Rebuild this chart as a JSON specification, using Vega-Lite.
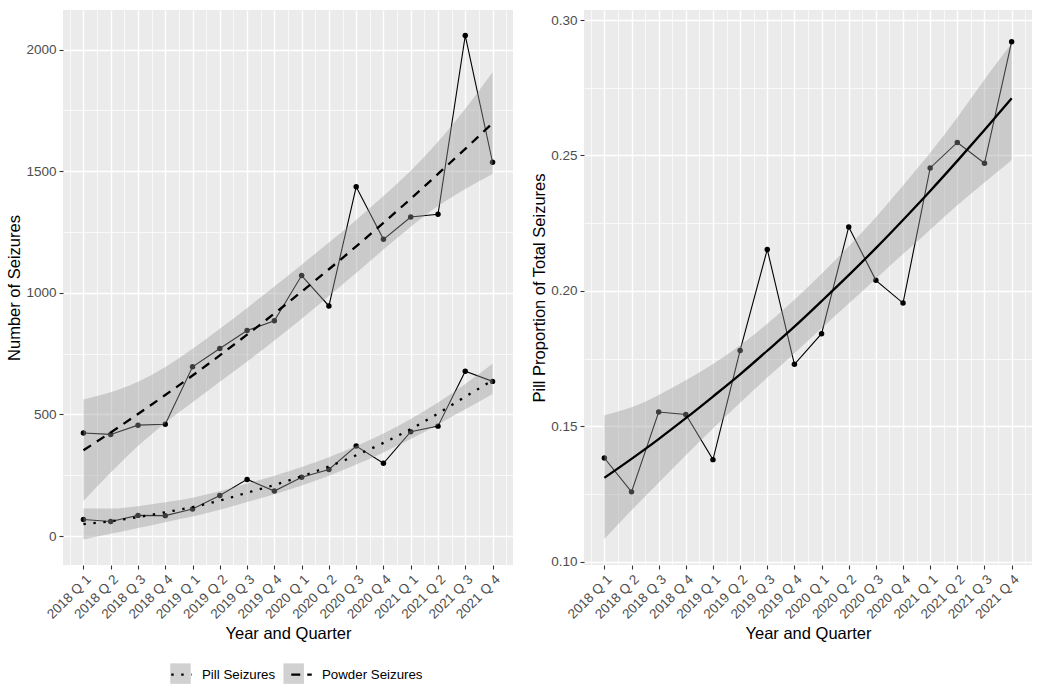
{
  "$schema": "https://vega.github.io/schema/vega-lite/v6.json",
  "padding": {"left": 6, "top": 10, "right": 5, "bottom": 5},
  "spacing": 15,
  "config": {
    "font": "Liberation Sans",
    "view": {"fill": "#EBEBEB", "stroke": null},
    "axis": {
      "gridColor": "#FFFFFF",
      "domain": false,
      "tickColor": "#333333",
      "tickSize": 4,
      "tickWidth": 1.1,
      "labelColor": "#4D4D4D",
      "labelFontSize": 13.5,
      "labelPadding": 3,
      "titleColor": "#000000",
      "titleFontSize": 16.5,
      "titleFontWeight": "normal"
    },
    "axisY": {"titlePadding": 3},
    "axisX": {"titlePadding": 5},
    "legend": {"labelFontSize": 13.3, "labelColor": "#000000"}
  },
  "datasets": {
    "raw": [
      {"i": 1, "series": "Powder Seizures", "seizures": 424},
      {"i": 2, "series": "Powder Seizures", "seizures": 418},
      {"i": 3, "series": "Powder Seizures", "seizures": 456},
      {"i": 4, "series": "Powder Seizures", "seizures": 460},
      {"i": 5, "series": "Powder Seizures", "seizures": 696},
      {"i": 6, "series": "Powder Seizures", "seizures": 771},
      {"i": 7, "series": "Powder Seizures", "seizures": 845},
      {"i": 8, "series": "Powder Seizures", "seizures": 885},
      {"i": 9, "series": "Powder Seizures", "seizures": 1071},
      {"i": 10, "series": "Powder Seizures", "seizures": 946},
      {"i": 11, "series": "Powder Seizures", "seizures": 1436},
      {"i": 12, "series": "Powder Seizures", "seizures": 1220},
      {"i": 13, "series": "Powder Seizures", "seizures": 1312},
      {"i": 14, "series": "Powder Seizures", "seizures": 1323},
      {"i": 15, "series": "Powder Seizures", "seizures": 2058},
      {"i": 16, "series": "Powder Seizures", "seizures": 1537},
      {"i": 1, "series": "Pill Seizures", "seizures": 68},
      {"i": 2, "series": "Pill Seizures", "seizures": 60},
      {"i": 3, "series": "Pill Seizures", "seizures": 85},
      {"i": 4, "series": "Pill Seizures", "seizures": 84},
      {"i": 5, "series": "Pill Seizures", "seizures": 111},
      {"i": 6, "series": "Pill Seizures", "seizures": 167},
      {"i": 7, "series": "Pill Seizures", "seizures": 233},
      {"i": 8, "series": "Pill Seizures", "seizures": 185},
      {"i": 9, "series": "Pill Seizures", "seizures": 242},
      {"i": 10, "series": "Pill Seizures", "seizures": 274},
      {"i": 11, "series": "Pill Seizures", "seizures": 370},
      {"i": 12, "series": "Pill Seizures", "seizures": 299},
      {"i": 13, "series": "Pill Seizures", "seizures": 429},
      {"i": 14, "series": "Pill Seizures", "seizures": 452},
      {"i": 15, "series": "Pill Seizures", "seizures": 678},
      {"i": 16, "series": "Pill Seizures", "seizures": 636}
    ],
    "fit": [
      {"i": 1, "series": "Powder Seizures", "band": "Powder Seizures", "fit": 353, "lo": 144, "hi": 562},
      {"i": 2, "series": "Powder Seizures", "band": "Powder Seizures", "fit": 426, "lo": 261, "hi": 591},
      {"i": 3, "series": "Powder Seizures", "band": "Powder Seizures", "fit": 502, "lo": 370, "hi": 634},
      {"i": 4, "series": "Powder Seizures", "band": "Powder Seizures", "fit": 580, "lo": 465, "hi": 695},
      {"i": 5, "series": "Powder Seizures", "band": "Powder Seizures", "fit": 660, "lo": 550, "hi": 770},
      {"i": 6, "series": "Powder Seizures", "band": "Powder Seizures", "fit": 743, "lo": 634, "hi": 852},
      {"i": 7, "series": "Powder Seizures", "band": "Powder Seizures", "fit": 828, "lo": 718, "hi": 938},
      {"i": 8, "series": "Powder Seizures", "band": "Powder Seizures", "fit": 915, "lo": 804, "hi": 1026},
      {"i": 9, "series": "Powder Seizures", "band": "Powder Seizures", "fit": 1005, "lo": 894, "hi": 1116},
      {"i": 10, "series": "Powder Seizures", "band": "Powder Seizures", "fit": 1097, "lo": 987, "hi": 1207},
      {"i": 11, "series": "Powder Seizures", "band": "Powder Seizures", "fit": 1191, "lo": 1082, "hi": 1300},
      {"i": 12, "series": "Powder Seizures", "band": "Powder Seizures", "fit": 1288, "lo": 1178, "hi": 1398},
      {"i": 13, "series": "Powder Seizures", "band": "Powder Seizures", "fit": 1387, "lo": 1272, "hi": 1502},
      {"i": 14, "series": "Powder Seizures", "band": "Powder Seizures", "fit": 1489, "lo": 1357, "hi": 1621},
      {"i": 15, "series": "Powder Seizures", "band": "Powder Seizures", "fit": 1592, "lo": 1427, "hi": 1757},
      {"i": 16, "series": "Powder Seizures", "band": "Powder Seizures", "fit": 1698, "lo": 1489, "hi": 1907},
      {"i": 1, "series": "Pill Seizures", "band": "Pill Seizures", "fit": 49, "lo": -14, "hi": 113},
      {"i": 2, "series": "Pill Seizures", "band": "Pill Seizures", "fit": 61, "lo": 9, "hi": 113},
      {"i": 3, "series": "Pill Seizures", "band": "Pill Seizures", "fit": 78, "lo": 33, "hi": 123},
      {"i": 4, "series": "Pill Seizures", "band": "Pill Seizures", "fit": 98, "lo": 57, "hi": 139},
      {"i": 5, "series": "Pill Seizures", "band": "Pill Seizures", "fit": 119, "lo": 80, "hi": 158},
      {"i": 6, "series": "Pill Seizures", "band": "Pill Seizures", "fit": 146, "lo": 108, "hi": 184},
      {"i": 7, "series": "Pill Seizures", "band": "Pill Seizures", "fit": 178, "lo": 140, "hi": 216},
      {"i": 8, "series": "Pill Seizures", "band": "Pill Seizures", "fit": 210, "lo": 172, "hi": 248},
      {"i": 9, "series": "Pill Seizures", "band": "Pill Seizures", "fit": 246, "lo": 208, "hi": 284},
      {"i": 10, "series": "Pill Seizures", "band": "Pill Seizures", "fit": 286, "lo": 248, "hi": 324},
      {"i": 11, "series": "Pill Seizures", "band": "Pill Seizures", "fit": 332, "lo": 294, "hi": 370},
      {"i": 12, "series": "Pill Seizures", "band": "Pill Seizures", "fit": 383, "lo": 344, "hi": 422},
      {"i": 13, "series": "Pill Seizures", "band": "Pill Seizures", "fit": 440, "lo": 399, "hi": 481},
      {"i": 14, "series": "Pill Seizures", "band": "Pill Seizures", "fit": 504, "lo": 459, "hi": 549},
      {"i": 15, "series": "Pill Seizures", "band": "Pill Seizures", "fit": 573, "lo": 521, "hi": 625},
      {"i": 16, "series": "Pill Seizures", "band": "Pill Seizures", "fit": 640, "lo": 584, "hi": 708}
    ],
    "prop": [
      {"i": 1, "prop": 0.1383, "fit": 0.1310, "lo": 0.1084, "hi": 0.1541},
      {"i": 2, "prop": 0.1258, "fit": 0.1380, "lo": 0.1190, "hi": 0.1570},
      {"i": 3, "prop": 0.1553, "fit": 0.1453, "lo": 0.1292, "hi": 0.1616},
      {"i": 4, "prop": 0.1544, "fit": 0.1530, "lo": 0.1393, "hi": 0.1670},
      {"i": 5, "prop": 0.1377, "fit": 0.1610, "lo": 0.1492, "hi": 0.1730},
      {"i": 6, "prop": 0.1780, "fit": 0.1692, "lo": 0.1587, "hi": 0.1799},
      {"i": 7, "prop": 0.2153, "fit": 0.1779, "lo": 0.1680, "hi": 0.1879},
      {"i": 8, "prop": 0.1729, "fit": 0.1868, "lo": 0.1770, "hi": 0.1967},
      {"i": 9, "prop": 0.1842, "fit": 0.1962, "lo": 0.1862, "hi": 0.2063},
      {"i": 10, "prop": 0.2236, "fit": 0.2058, "lo": 0.1953, "hi": 0.2165},
      {"i": 11, "prop": 0.2039, "fit": 0.2158, "lo": 0.2045, "hi": 0.2272},
      {"i": 12, "prop": 0.1955, "fit": 0.2262, "lo": 0.2136, "hi": 0.2389},
      {"i": 13, "prop": 0.2454, "fit": 0.2369, "lo": 0.2226, "hi": 0.2510},
      {"i": 14, "prop": 0.2548, "fit": 0.2480, "lo": 0.2316, "hi": 0.2640},
      {"i": 15, "prop": 0.2471, "fit": 0.2594, "lo": 0.2400, "hi": 0.2780},
      {"i": 16, "prop": 0.2920, "fit": 0.2711, "lo": 0.2482, "hi": 0.2914}
    ]
  },
  "resolve": {
    "scale": {"strokeDash": "independent", "fill": "independent"},
    "legend": {"strokeDash": "independent", "fill": "independent"}
  },
  "hconcat": [
    {
      "width": 450,
      "height": 555,
      "encoding": {
        "x": {
          "field": "i", "type": "quantitative",
          "scale": {"domain": [0.25, 16.75], "nice": false, "zero": false},
          "axis": {
            "title": "Year and Quarter",
            "values": [0.5, 1, 1.5, 2, 2.5, 3, 3.5, 4, 4.5, 5, 5.5, 6, 6.5, 7, 7.5, 8, 8.5, 9, 9.5, 10, 10.5, 11, 11.5, 12, 12.5, 13, 13.5, 14, 14.5, 15, 15.5, 16, 16.5],
            "labelExpr": "datum.value % 1 === 0 ? ['2018 Q 1','2018 Q 2','2018 Q 3','2018 Q 4','2019 Q 1','2019 Q 2','2019 Q 3','2019 Q 4','2020 Q 1','2020 Q 2','2020 Q 3','2020 Q 4','2021 Q 1','2021 Q 2','2021 Q 3','2021 Q 4'][datum.value - 1] : ''",
            "labelAngle": -45,
            "labelAlign": "right",
            "labelBaseline": "top",
            "labelOverlap": false,
            "labelFlush": false,
            "gridWidth": {"condition": {"test": "datum.value % 1 === 0", "value": 1.4}, "value": 0.7},
            "tickOpacity": {"condition": {"test": "datum.value % 1 === 0", "value": 1}, "value": 0}
          }
        }
      },
      "layer": [
        {
          "data": {"name": "raw"},
          "mark": {"type": "line", "color": "#000000", "strokeWidth": 1.1},
          "encoding": {
            "y": {
              "field": "seizures", "type": "quantitative",
              "scale": {"domain": [-119, 2163], "nice": false, "zero": false},
              "axis": {
                "title": "Number of Seizures",
                "values": [0, 250, 500, 750, 1000, 1250, 1500, 1750, 2000],
                "labelExpr": "datum.value % 500 === 0 ? format(datum.value, 'd') : ''",
                "gridWidth": {"condition": {"test": "datum.value % 500 === 0", "value": 1.4}, "value": 0.7},
                "tickOpacity": {"condition": {"test": "datum.value % 500 === 0", "value": 1}, "value": 0}
              }
            },
            "detail": {"field": "series"}
          }
        },
        {
          "data": {"name": "raw"},
          "mark": {"type": "point", "filled": true, "color": "#000000", "opacity": 1, "size": 30},
          "encoding": {"y": {"field": "seizures", "type": "quantitative"}}
        },
        {
          "data": {"name": "fit"},
          "mark": {"type": "area", "opacity": 0.4, "interpolate": "monotone"},
          "encoding": {
            "y": {"field": "lo", "type": "quantitative"},
            "y2": {"field": "hi"},
            "fill": {
              "field": "band", "type": "nominal",
              "scale": {"range": ["#999999", "#999999"]},
              "legend": {
                "title": null,
                "orient": "none",
                "direction": "horizontal",
                "legendX": 107,
                "legendY": 653,
                "symbolType": "square",
                "symbolSize": 420,
                "symbolOpacity": 0.45,
                "symbolStrokeWidth": 0,
                "labelExpr": "''",
                "columnPadding": 83.2,
                "labelOffset": 9,
                "zindex": 1
              }
            }
          }
        },
        {
          "data": {"name": "fit"},
          "mark": {"type": "line", "color": "#000000", "strokeWidth": 2.3, "interpolate": "monotone"},
          "encoding": {
            "y": {"field": "fit", "type": "quantitative"},
            "strokeDash": {
              "field": "series", "type": "nominal",
              "scale": {"domain": ["Pill Seizures", "Powder Seizures"], "range": [[2.4, 7.6], [9, 7]]},
              "legend": {
                "title": null,
                "orient": "none",
                "direction": "horizontal",
                "legendX": 107,
                "legendY": 653,
                "symbolType": "stroke",
                "symbolSize": 420,
                "symbolStrokeWidth": 2.3,
                "symbolStrokeColor": "#000000",
                "columnPadding": 10,
                "labelOffset": 9,
                "zindex": 2
              }
            }
          }
        }
      ]
    },
    {
      "width": 448,
      "height": 555,
      "data": {"name": "prop"},
      "encoding": {
        "x": {
          "field": "i", "type": "quantitative",
          "scale": {"domain": [0.25, 16.75], "nice": false, "zero": false},
          "axis": {
            "title": "Year and Quarter",
            "values": [0.5, 1, 1.5, 2, 2.5, 3, 3.5, 4, 4.5, 5, 5.5, 6, 6.5, 7, 7.5, 8, 8.5, 9, 9.5, 10, 10.5, 11, 11.5, 12, 12.5, 13, 13.5, 14, 14.5, 15, 15.5, 16, 16.5],
            "labelExpr": "datum.value % 1 === 0 ? ['2018 Q 1','2018 Q 2','2018 Q 3','2018 Q 4','2019 Q 1','2019 Q 2','2019 Q 3','2019 Q 4','2020 Q 1','2020 Q 2','2020 Q 3','2020 Q 4','2021 Q 1','2021 Q 2','2021 Q 3','2021 Q 4'][datum.value - 1] : ''",
            "labelAngle": -45,
            "labelAlign": "right",
            "labelBaseline": "top",
            "labelOverlap": false,
            "labelFlush": false,
            "gridWidth": {"condition": {"test": "datum.value % 1 === 0", "value": 1.4}, "value": 0.7},
            "tickOpacity": {"condition": {"test": "datum.value % 1 === 0", "value": 1}, "value": 0}
          }
        }
      },
      "layer": [
        {
          "mark": {"type": "line", "color": "#000000", "strokeWidth": 1.1},
          "encoding": {
            "y": {
              "field": "prop", "type": "quantitative",
              "scale": {"domain": [0.0988, 0.3037], "nice": false, "zero": false},
              "axis": {
                "title": "Pill Proportion of Total Seizures",
                "values": [0.1, 0.125, 0.15, 0.175, 0.2, 0.225, 0.25, 0.275, 0.3],
                "labelExpr": "abs(datum.value * 20 - round(datum.value * 20)) < 0.001 ? format(datum.value, '.2f') : ''",
                "gridWidth": {"condition": {"test": "abs(datum.value * 20 - round(datum.value * 20)) < 0.001", "value": 1.4}, "value": 0.7},
                "tickOpacity": {"condition": {"test": "abs(datum.value * 20 - round(datum.value * 20)) < 0.001", "value": 1}, "value": 0}
              }
            }
          }
        },
        {
          "mark": {"type": "point", "filled": true, "color": "#000000", "opacity": 1, "size": 30},
          "encoding": {"y": {"field": "prop", "type": "quantitative"}}
        },
        {
          "mark": {"type": "area", "color": "#999999", "opacity": 0.4, "interpolate": "monotone"},
          "encoding": {
            "y": {"field": "lo", "type": "quantitative"},
            "y2": {"field": "hi"}
          }
        },
        {
          "mark": {"type": "line", "color": "#000000", "strokeWidth": 2.3, "interpolate": "monotone"},
          "encoding": {"y": {"field": "fit", "type": "quantitative"}}
        }
      ]
    }
  ]
}
